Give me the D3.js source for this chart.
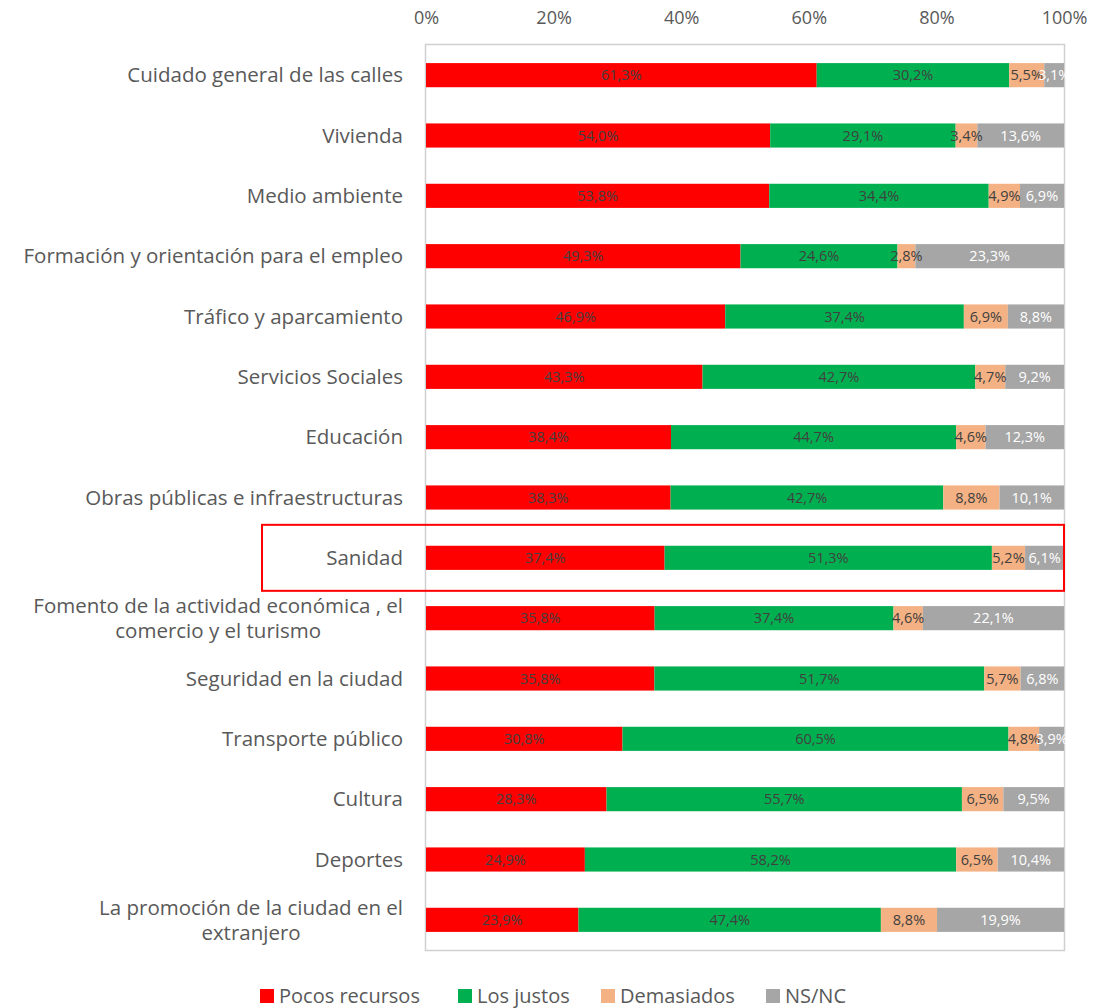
<!DOCTYPE html>
<html>
<head>
<meta charset="utf-8">
<script src="https://cdn.jsdelivr.net/npm/d3@7"></script>
<style>
  html, body { margin: 0; padding: 0; background: #fff; }
  svg { display: block; font-family: "Open Sans", "Noto Sans", sans-serif; }
</style>
</head>
<body>
<svg id="chart" width="1106" height="1008"></svg>
<script>
// Survey: perceived resources per municipal area (shares in %)
const categories = [
  ["Cuidado general de las calles"],
  ["Vivienda"],
  ["Medio ambiente"],
  ["Formación y orientación para el empleo"],
  ["Tráfico y aparcamiento"],
  ["Servicios Sociales"],
  ["Educación"],
  ["Obras públicas e infraestructuras"],
  ["Sanidad"],
  ["Fomento de la actividad económica , el", "comercio y el turismo"],
  ["Seguridad en la ciudad"],
  ["Transporte público"],
  ["Cultura"],
  ["Deportes"],
  ["La promoción de la ciudad en el", "extranjero"]
];
const seriesNames = ["Pocos recursos", "Los justos", "Demasiados", "NS/NC"];
const pocosRecursos = [61.3, 54.0, 53.8, 49.3, 46.9, 43.3, 38.4, 38.3, 37.4, 35.8, 35.8, 30.8, 28.3, 24.9, 23.9];
const losJustos     = [30.2, 29.1, 34.4, 24.6, 37.4, 42.7, 44.7, 42.7, 51.3, 37.4, 51.7, 60.5, 55.7, 58.2, 47.4];
const demasiados    = [5.5, 3.4, 4.9, 2.8, 6.9, 4.7, 4.6, 8.8, 5.2, 4.6, 5.7, 4.8, 6.5, 6.5, 8.8];
const nsnc          = [3.1, 13.6, 6.9, 23.3, 8.8, 9.2, 12.3, 10.1, 6.1, 22.1, 6.8, 3.9, 9.5, 10.4, 19.9];
const tickValues = [0, 0.2, 0.4, 0.6, 0.8, 1.0];
const highlighted = "Sanidad";

const colors = ["#FF0000", "#00B050", "#F4B183", "#A6A6A6"];
const labelColors = ["#404040", "#404040", "#404040", "#FFFFFF"];

const seriesValues = [pocosRecursos, losJustos, demasiados, nsnc];
const keys = categories.map(c => c.join(" "));
const rows = keys.map((k, i) => {
  const r = { key: k };
  seriesNames.forEach((s, j) => r[s] = seriesValues[j][i]);
  return r;
});

const svg = d3.select("#chart");
const plot = { left: 426, right: 1064, top: 45, bottom: 950 };
const labelRight = 403;

const x = d3.scaleLinear().domain([0, 1]).range([plot.left, plot.right]);
const y = d3.scaleBand().domain(keys).range([plot.top, plot.bottom]).paddingInner(0.6).paddingOuter(0.3);

// 100% stacking
const stack = d3.stack().keys(seriesNames).offset(d3.stackOffsetExpand);
const stacked = stack(rows);

// plot area frame
svg.append("rect")
  .attr("x", plot.left - 0.5).attr("y", plot.top - 0.5)
  .attr("width", plot.right - plot.left + 1).attr("height", plot.bottom - plot.top + 1)
  .attr("fill", "none").attr("stroke", "#D0D0D0").attr("stroke-width", 1.5);

// top axis
const axis = d3.axisTop(x).tickValues(tickValues).tickFormat(d3.format(".0%")).tickSize(0).tickPadding(0);
const ax = svg.append("g").attr("transform", `translate(0, 24)`).call(axis);
ax.select(".domain").remove();
ax.selectAll("text").attr("fill", "#595959").attr("font-size", 18).attr("font-family", "Open Sans, sans-serif");

// bars
const layers = svg.append("g").selectAll("g").data(stacked).join("g")
  .attr("fill", (d, i) => colors[i]);
layers.selectAll("rect").data(d => d).join("rect")
  .attr("x", d => x(d[0]))
  .attr("y", d => y(d.data.key))
  .attr("width", d => x(d[1]) - x(d[0]))
  .attr("height", y.bandwidth());

// value labels
const fmt = v => d3.format(".1f")(v).replace(".", ",") + "%";
svg.append("g").selectAll("g").data(stacked).join("g")
  .attr("fill", (d, i) => labelColors[i])
  .selectAll("text").data(d => d.map(p => ({ p, key: d.key }))).join("text")
  .attr("x", d => (x(d.p[0]) + x(d.p[1])) / 2)
  .attr("y", d => y(d.p.data.key) + y.bandwidth() / 2)
  .attr("dy", "0.35em")
  .attr("text-anchor", "middle")
  .attr("font-size", 14.5)
  .text(d => fmt(d.p.data[d.key]));

// category labels: single lines right-aligned, wrapped labels centred as a block
const catG = svg.append("g");
categories.forEach((lines, i) => {
  const cy = y(keys[i]) + y.bandwidth() / 2;
  const t = catG.append("text")
    .attr("fill", "#595959")
    .attr("font-size", 20.5);
  if (lines.length === 1) {
    t.attr("text-anchor", "end");
    t.append("tspan").attr("x", labelRight).attr("y", cy).attr("dy", "0.35em").text(lines[0]);
  } else {
    const spans = lines.map((ln, k) => t.append("tspan")
      .attr("y", cy + (k - 0.5) * 25)
      .attr("dy", "0.35em")
      .text(ln));
    const maxW = d3.max(spans, s => s.node().getComputedTextLength());
    t.attr("text-anchor", "middle");
    spans.forEach(s => s.attr("x", labelRight - maxW / 2));
  }
});

// highlight box around the selected category
const hy = y(highlighted);
svg.append("rect")
  .attr("x", 262).attr("y", hy + y.bandwidth() / 2 - 33)
  .attr("width", plot.right - 262).attr("height", 66)
  .attr("fill", "none").attr("stroke", "#FF0000").attr("stroke-width", 2);

// legend
const legendX = [260, 458, 601, 766];
const lg = svg.append("g").selectAll("g").data(seriesNames).join("g")
  .attr("transform", (d, i) => `translate(${legendX[i]}, 996)`);
lg.append("rect").attr("x", 0).attr("y", -7).attr("width", 14).attr("height", 14)
  .attr("fill", (d, i) => colors[i]);
lg.append("text").attr("x", 19).attr("dy", "0.35em")
  .attr("fill", "#595959").attr("font-size", 20).text(d => d);
</script>
</body>
</html>
